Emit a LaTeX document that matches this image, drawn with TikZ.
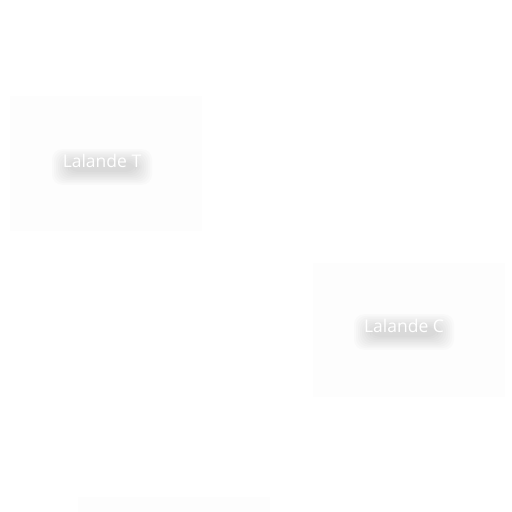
\documentclass[tikz,border=0pt]{standalone}
\usepackage{fontspec}
\setmainfont{Open Sans}
\usepackage{tikz}
\usepackage{xcolor}
\definecolor{panelfill}{HTML}{FDFDFD}
\definecolor{shadowgray}{HTML}{404040}
\tikzset{
    panel-box/.style = {fill=panelfill, draw=none, rectangle, minimum width=192bp, minimum height=134bp, inner sep=0pt},
    glow-label/.style = {text=white, font=\fontsize{17.5bp}{20bp}\selectfont, inner sep=0pt},
}
% soft shadow blob under a label (center of blob given)
\newcommand{\softshadow}[1]{%
  \foreach \s in {0,2,...,16}{
    \fill[shadowgray, opacity=0.02, rounded corners=10bp]
      ([xshift=-34bp-\s bp, yshift=-5bp-0.8*\s bp]#1) rectangle
      ([xshift=34bp+\s bp, yshift=5bp+0.8*\s bp]#1);
  }
}

\begin{document}
\begin{tikzpicture}[x=1bp,y=-1bp]
\clip (0,0) rectangle (512,512);
\fill[white] (0,0) rectangle (512,512);
% panels
\node[panel-box] (panelT) at (106,163.5) {};
\node[panel-box] (panelC) at (409,330) {};
\node[panel-box] (panelB) at (173.5,564) {};
% shadows
\coordinate (blobT) at (102,167);
\coordinate (blobC) at (404,332);
\softshadow{blobT}
\softshadow{blobC}
% labels
\node[glow-label] (labelT) at (102,161) {Lalande T};
\node[glow-label] (labelC) at (404,326) {Lalande C};
\end{tikzpicture}
\end{document}
